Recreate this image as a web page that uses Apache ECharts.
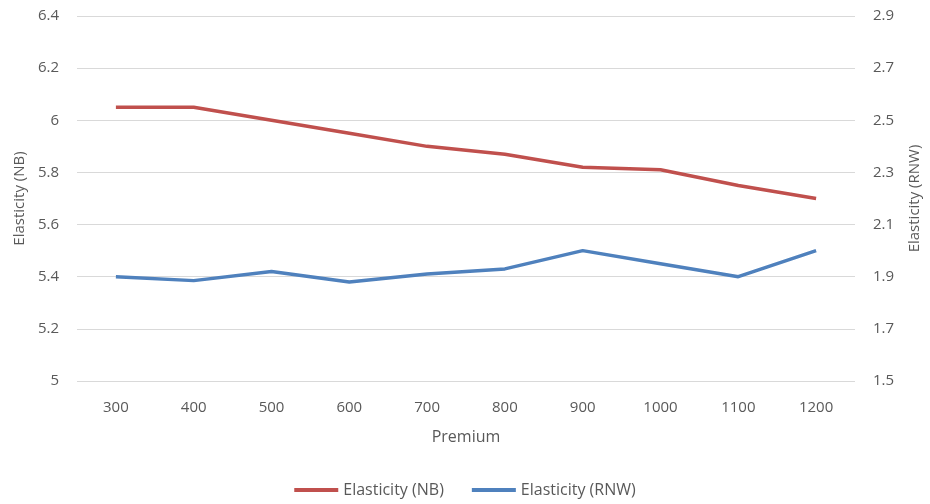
<!DOCTYPE html>
<html>
<head>
<meta charset="utf-8">
<script src="https://cdn.jsdelivr.net/npm/echarts@6/dist/echarts.min.js"></script>
<style>
  html, body { margin: 0; padding: 0; background: #fff; }
  #main { width: 930px; height: 504px; }
</style>
</head>
<body>
<div id="main"></div>
<script>
// values
const premiums = ['300', '400', '500', '600', '700', '800', '900', '1000', '1100', '1200'];
const elasticityNB = [6.05, 6.05, 6.0, 5.95, 5.9, 5.87, 5.82, 5.81, 5.75, 5.7];
const elasticityRNW = [1.9, 1.885, 1.92, 1.88, 1.91, 1.93, 2.0, 1.95, 1.9, 2.0];

const textColor = '#595959';
const font = 'Open Sans';

const chart = echarts.init(document.getElementById('main'));

chart.setOption({
  animation: false,
  textStyle: { fontFamily: font },
  grid: { left: 77, right: 72, top: 16, bottom: 123 },
  legend: {
    bottom: 1,
    itemWidth: 44,
    itemHeight: 4,
    itemGap: 28,
    icon: 'rect',
    textStyle: { color: textColor, fontSize: 16, fontFamily: font },
    data: ['Elasticity (NB)', 'Elasticity (RNW)']
  },
  xAxis: {
    type: 'category',
    data: premiums,
    boundaryGap: true,
    name: 'Premium',
    nameLocation: 'middle',
    nameGap: 48,
    nameTextStyle: { color: textColor, fontSize: 16, fontFamily: font },
    axisLine: { show: false },
    axisTick: { show: false },
    axisLabel: { color: textColor, fontSize: 15, margin: 19 }
  },
  yAxis: [
    {
      type: 'value',
      min: 5,
      max: 6.4,
      interval: 0.2,
      name: 'Elasticity (NB)',
      nameLocation: 'middle',
      nameGap: 50,
      nameTextStyle: { color: textColor, fontSize: 15, fontFamily: font },
      axisLine: { show: false },
      axisTick: { show: false },
      axisLabel: { color: textColor, fontSize: 15, margin: 18,
        formatter: v => String(Math.round(v * 10) / 10) },
      splitLine: { lineStyle: { color: '#d9d9d9', width: 1 } }
    },
    {
      type: 'value',
      min: 1.5,
      max: 2.9,
      interval: 0.2,
      name: 'Elasticity (RNW)',
      nameLocation: 'middle',
      nameGap: 52,
      nameRotate: 90,
      nameTextStyle: { color: textColor, fontSize: 15, fontFamily: font },
      axisLine: { show: false },
      axisTick: { show: false },
      axisLabel: { color: textColor, fontSize: 15, margin: 18,
        formatter: v => (Math.round(v * 10) / 10).toFixed(1) },
      splitLine: { show: false }
    }
  ],
  series: [
    {
      name: 'Elasticity (NB)',
      type: 'line',
      yAxisIndex: 0,
      data: elasticityNB,
      symbol: 'none',
      lineStyle: { color: '#C0504D', width: 3.5 },
      itemStyle: { color: '#C0504D' }
    },
    {
      name: 'Elasticity (RNW)',
      type: 'line',
      yAxisIndex: 1,
      data: elasticityRNW,
      symbol: 'none',
      lineStyle: { color: '#4F81BD', width: 3.5 },
      itemStyle: { color: '#4F81BD' }
    }
  ]
});
</script>
</body>
</html>
